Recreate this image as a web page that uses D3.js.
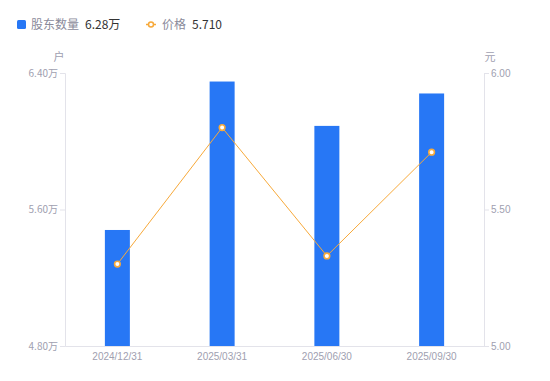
<!DOCTYPE html>
<html>
<head>
<meta charset="utf-8">
<script src="https://cdn.jsdelivr.net/npm/d3@7"></script>
<style>
  body { margin: 0; background: #fff; }
  svg { font-family: "Noto Sans CJK SC", "Liberation Sans", sans-serif; }
</style>
</head>
<body>
<div id="chart"></div>
<script>
// DATA ////////////////////////////////////////////////////////////
var dates = ["2024/12/31", "2025/03/31", "2025/06/30", "2025/09/30"];
var holders = [5.48, 6.35, 6.09, 6.28];   // 万户
var prices = [5.30, 5.80, 5.33, 5.71];     // 元
var leftTicks = [4.8, 5.6, 6.4];
var rightTicks = [5.0, 5.5, 6.0];

// SETUP ///////////////////////////////////////////////////////////
var width = 550, height = 381;
var padLeft = 65, padRight = 484, padTop = 73, padBottom = 346;
var axisColor = "#e3e3ea", labelColor = "#a0a0b0";
var barColor = "#2777f5", lineColor = "#f7a93a";

var svg = d3.select("#chart").append("svg")
  .attr("width", width).attr("height", height);

var x = d3.scaleBand().domain(dates).range([padLeft, padRight]);
var yL = d3.scaleLinear().domain([4.8, 6.4]).range([padBottom, padTop]);
var yR = d3.scaleLinear().domain([5.0, 6.0]).range([padBottom, padTop]);

// AXES ////////////////////////////////////////////////////////////
var gL = svg.append("g").attr("transform", "translate(" + padLeft + ",0)")
  .call(d3.axisLeft(yL).tickValues(leftTicks).tickSize(5).tickPadding(2)
    .tickFormat(function(d){ return d3.format(".2f")(d) + "万"; }));
var gR = svg.append("g").attr("transform", "translate(" + padRight + ",0)")
  .call(d3.axisRight(yR).tickValues(rightTicks).tickSize(5).tickPadding(2)
    .tickFormat(d3.format(".2f")));
var gX = svg.append("g").attr("transform", "translate(0," + padBottom + ")")
  .call(d3.axisBottom(x).tickSize(0).tickPadding(7));

[gL, gR, gX].forEach(function(g){
  g.select(".domain").attr("stroke", axisColor);
  g.selectAll(".tick line").attr("stroke", axisColor);
  g.selectAll("text").attr("fill", labelColor).attr("font-size", 10)
    .attr("font-family", "'Liberation Sans', sans-serif");
});
gL.selectAll("text").attr("font-family", "'Noto Sans CJK SC', sans-serif");

svg.append("text").attr("x", 59).attr("y", 61).attr("text-anchor", "middle")
  .attr("fill", labelColor).attr("font-size", 11).text("户");
svg.append("text").attr("x", 490).attr("y", 61).attr("text-anchor", "middle")
  .attr("fill", labelColor).attr("font-size", 11).text("元");

// BARS ////////////////////////////////////////////////////////////
var bw = 25;
svg.append("g").selectAll("rect").data(holders)
  .enter().append("rect")
  .attr("x", function(d, i){ return x(dates[i]) + x.bandwidth() / 2 - bw / 2; })
  .attr("y", function(d){ return yL(d); })
  .attr("width", bw)
  .attr("height", function(d){ return padBottom - yL(d); })
  .attr("fill", barColor);

// LINE ////////////////////////////////////////////////////////////
var line = d3.line()
  .x(function(d, i){ return x(dates[i]) + x.bandwidth() / 2; })
  .y(function(d){ return yR(d); });
svg.append("path").datum(prices).attr("d", line)
  .attr("fill", "none").attr("stroke", lineColor).attr("stroke-width", 1);
svg.append("g").selectAll("circle").data(prices)
  .enter().append("circle")
  .attr("cx", function(d, i){ return x(dates[i]) + x.bandwidth() / 2; })
  .attr("cy", function(d){ return yR(d); })
  .attr("r", 2.8)
  .attr("fill", "#fff").attr("stroke", lineColor).attr("stroke-width", 1.6);

// LEGEND //////////////////////////////////////////////////////////
var lg = svg.append("g").attr("font-size", 12);
lg.append("rect").attr("x", 17).attr("y", 20).attr("width", 9).attr("height", 9)
  .attr("rx", 1.5).attr("fill", barColor);
lg.append("text").attr("x", 31).attr("y", 29).attr("fill", "#8a8a9a").text("股东数量");
lg.append("text").attr("x", 85).attr("y", 29).attr("fill", "#333").text("6.28万");
lg.append("line").attr("x1", 146).attr("x2", 156).attr("y1", 24.5).attr("y2", 24.5)
  .attr("stroke", lineColor).attr("stroke-width", 1.5);
lg.append("circle").attr("cx", 151).attr("cy", 24.5).attr("r", 2.5)
  .attr("fill", "#fff").attr("stroke", lineColor).attr("stroke-width", 1.5);
lg.append("text").attr("x", 162).attr("y", 29).attr("fill", "#8a8a9a").text("价格");
lg.append("text").attr("x", 192).attr("y", 29).attr("fill", "#333").text("5.710");
</script>
</body>
</html>
